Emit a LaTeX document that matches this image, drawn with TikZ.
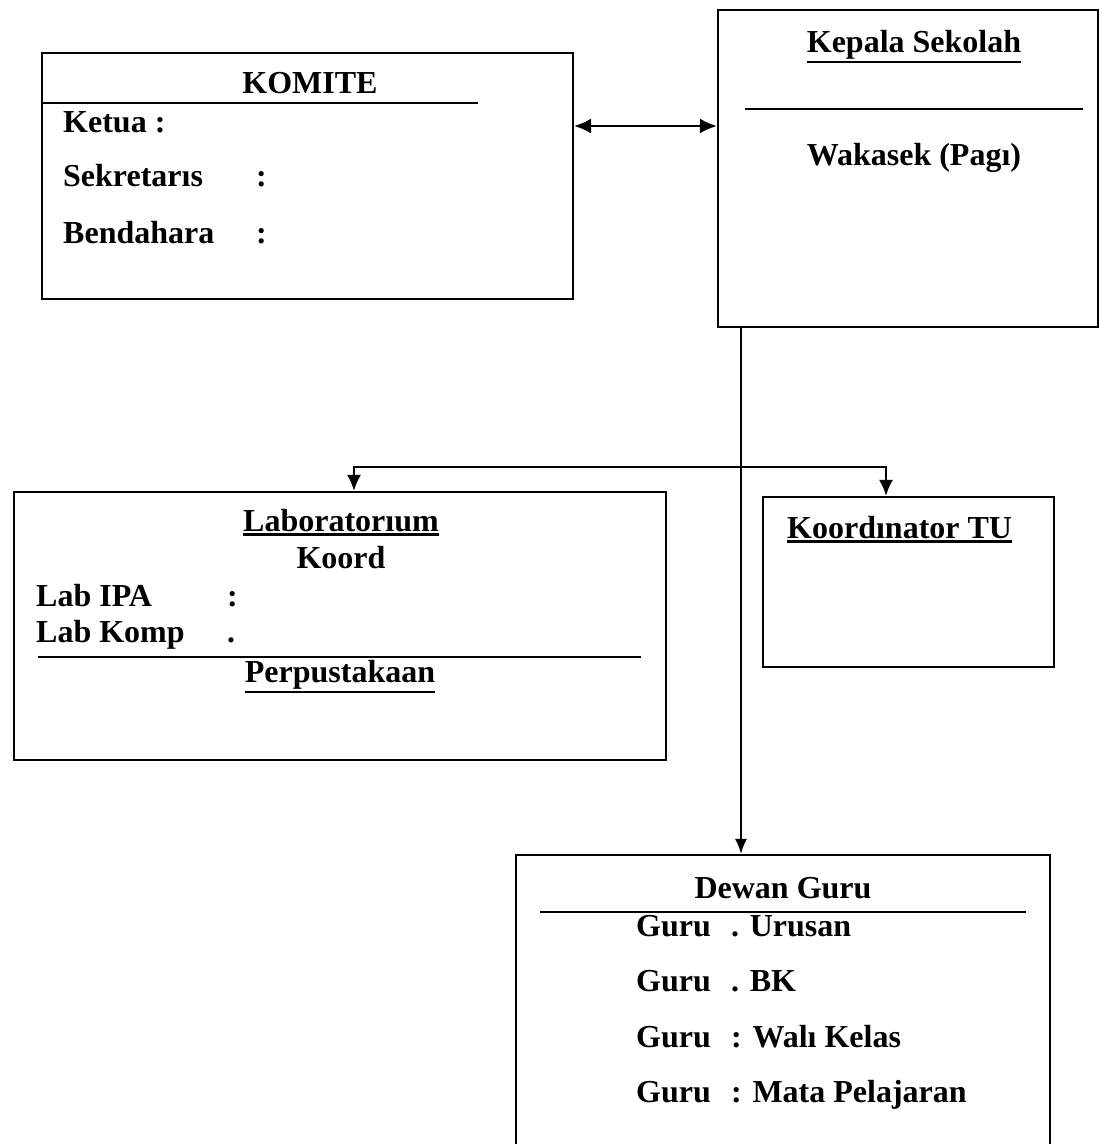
\documentclass[tikz,border=0pt]{standalone}
\usepackage{fontspec}
\setmainfont{Liberation Serif}
\usetikzlibrary{arrows.meta}
\newcommand{\ulthick}[1]{\leavevmode\vtop{\hbox{#1}\kern2pt\hrule height 2.4pt}}
\begin{document}
\begin{tikzpicture}[x=1pt,y=-1pt,
  box/.style={draw, line width=2.2pt, rectangle, inner sep=0pt},
  txt/.style={inner sep=0pt, font=\fontsize{32}{38}\selectfont\bfseries},
  rule/.style={line width=2.2pt},
  conn/.style={line width=2pt},
  tip/.style={Latex[length=15pt,width=13pt]}]
\useasboundingbox[fill=white] (0,0) rectangle (1100,1144);
% boxes
\node[box, minimum width=531pt, minimum height=246pt] (komite) at (307.5,176) {};
\node[box, minimum width=380pt, minimum height=317pt] (kepala) at (908,168.5) {};
\node[box, minimum width=652pt, minimum height=268pt] (lab) at (340,626) {};
\node[box, minimum width=291pt, minimum height=170pt] (koordtu) at (908.5,582) {};
\node[box, minimum width=534pt, minimum height=300pt] (dewan) at (783,1005) {};
% KOMITE
\node[txt, anchor=base] (tkom) at (310,93) {KOMITE};
\coordinate (k1) at (42,103); \coordinate (k2) at (478,103);
\draw[rule] (k1) -- (k2);
\node[txt, anchor=base west] (ketua) at (63,132) {Ketua :};
\node[txt, anchor=base west] (sekr) at (63,186) {Sekretarıs};
\node[txt, anchor=base west] (sekrc) at (256,186) {:};
\node[txt, anchor=base west] (bend) at (63,243) {Bendahara};
\node[txt, anchor=base west] (bendc) at (256,243) {:};
% Kepala Sekolah
\node[txt, anchor=base] (tkep) at (914,52) {\ulthick{Kepala Sekolah}};
\coordinate (p1) at (745,109); \coordinate (p2) at (1083,109);
\draw[rule] (p1) -- (p2);
\node[txt, anchor=base] (waka) at (914,165) {Wakasek (Pagı)};
% Laboratorium
\node[txt, anchor=base] (tlab) at (341,531) {\ulthick{Laboratorıum}};
\node[txt, anchor=base] (koord) at (341,568) {Koord};
\node[txt, anchor=base west] (ipa) at (36,606) {Lab IPA};
\node[txt, anchor=base west] (ipac) at (227,606) {:};
\node[txt, anchor=base west] (komp) at (36,642) {Lab Komp};
\node[txt, anchor=base west] (kompc) at (227,642) {.};
\coordinate (l1) at (38,657); \coordinate (l2) at (641,657);
\draw[rule] (l1) -- (l2);
\node[txt, anchor=base] (perp) at (340,682) {\ulthick{Perpustakaan}};
% Koordinator TU
\node[txt, anchor=base west] (tkoord) at (787,538) {\ulthick{Koordınator TU}};
% Dewan Guru
\node[txt, anchor=base] (tdew) at (783,898) {Dewan Guru};
\coordinate (d1) at (540,912); \coordinate (d2) at (1026,912);
\draw[rule] (d1) -- (d2);
\node[txt, anchor=base west] (g1) at (636,936) {Guru};
\node[txt, anchor=base west] (g1b) at (731,936) {. Urusan};
\node[txt, anchor=base west] (g2) at (636,991) {Guru};
\node[txt, anchor=base west] (g2b) at (731,991) {. BK};
\node[txt, anchor=base west] (g3) at (636,1047) {Guru};
\node[txt, anchor=base west] (g3b) at (731,1047) {: Walı Kelas};
\node[txt, anchor=base west] (g4) at (636,1102) {Guru};
\node[txt, anchor=base west] (g4b) at (731,1102) {: Mata Pelajaran};
% connectors
\coordinate (ya) at (0,126);
\draw[conn, {Latex[length=17pt,width=15pt]}-{Latex[length=17pt,width=15pt]}] (komite.east |- ya) -- (kepala.west |- ya);
\coordinate (trunk) at (741,0);
\draw[conn, -{Latex[length=15pt,width=12pt]}] (kepala.south -| trunk) -- (dewan.north -| trunk);
\coordinate (jl) at (354,467); \coordinate (jr) at (886,467);
\draw[conn, {Latex[length=16pt,width=14pt]}-{Latex[length=16pt,width=14pt]}] (lab.north -| jl) -- (jl) -- (jr) -- (koordtu.north -| jr);
\end{tikzpicture}
\end{document}
